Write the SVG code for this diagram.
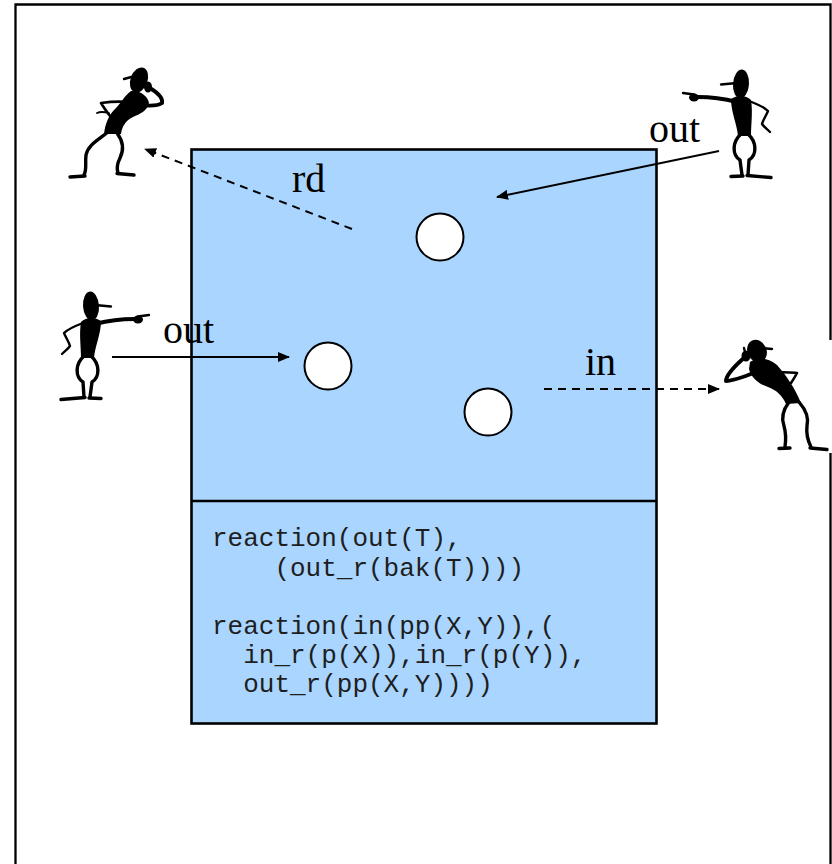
<svg xmlns="http://www.w3.org/2000/svg" width="832" height="864" viewBox="0 0 832 864">
  <defs>
    <style>
      .frame{fill:none;stroke:#000;stroke-width:2.3}
      .box{fill:#a9d5ff;stroke:#000;stroke-width:2.6}
      .token{fill:#fff;stroke:#000;stroke-width:2}
      .lbl{font-family:"Liberation Serif","Times New Roman",serif;font-size:40px;fill:#000}
      .code{font-family:"Liberation Mono","Courier New",monospace;font-size:26px;fill:#1e1e1e}
      .solid{fill:none;stroke:#000;stroke-width:2}
      .dash{fill:none;stroke:#000;stroke-width:2;stroke-dasharray:8 6}
      .ink{fill:#000}
      .limb{fill:none;stroke:#000;stroke-linecap:round;stroke-linejoin:round}
    </style>
    <filter id="soft" x="-10%" y="-10%" width="120%" height="120%">
      <feGaussianBlur stdDeviation="0.6"/>
    </filter>
    <marker id="tip" markerWidth="12" markerHeight="10" refX="11" refY="5" orient="auto" markerUnits="userSpaceOnUse">
      <path d="M0,0 L12,5 L0,10 Z" fill="#000"/>
    </marker>
    <!-- pointing figure, facing left -->
    <g id="pointer">
      <ellipse class="ink" cx="741" cy="84" rx="8" ry="14.5" transform="rotate(4 741 84)"/>
      <path class="limb" stroke-width="2.4" d="M721,84.5 L737,83"/>
      <path class="ink" d="M731,99 C737,95 746,95 751,100 C753,112 751,124 751,136 L738,136 C737,124 731,112 731,99 Z"/>
      <path class="limb" stroke-width="4" d="M737,102 C725,99 710,97 698,97"/>
      <ellipse class="ink" cx="694" cy="97.5" rx="5" ry="4"/>
      <path class="limb" stroke-width="2.4" d="M694,94.5 L683,93"/>
      <path class="limb" stroke-width="2.4" d="M749,101 C757,104 764,107 768,111 C766,116 763,120 762,124 C764,127 767,129 770,132"/>
      <path class="limb" stroke-width="3.4" d="M741,134 C732,142 732,155 740,160 L742,175"/>
      <path class="limb" stroke-width="3.4" d="M748,134 C757,142 757,155 749,160 L748,175"/>
      <path class="limb" stroke-width="3.4" d="M731,176.5 L743,176"/>
      <path class="limb" stroke-width="3.4" d="M747,175.5 L771,177.5"/>
    </g>
  </defs>

  <!-- page frame, broken where the right-hand figure overlaps it -->
  <path class="frame" d="M15.5,864 L15.5,4.5 L830.5,4.5 L830.5,340 M830.5,453 L830.5,864"/>

  <!-- tuple space -->
  <g id="space">
    <rect class="box" x="191.5" y="149.5" width="465" height="574"/>
    <line x1="191.5" y1="501" x2="656.5" y2="501" stroke="#000" stroke-width="2.6"/>
  </g>

  <g id="tuple1"><circle class="token" cx="440" cy="237" r="23.5"/></g>
  <g id="tuple2"><circle class="token" cx="328" cy="366" r="23.5"/></g>
  <g id="tuple3"><circle class="token" cx="488" cy="412" r="23.5"/></g>

  <!-- reaction specification -->
  <g id="reactions">
    <text class="code" x="212" y="546">reaction(out(T),</text>
    <text class="code" x="274.4" y="576">(out_r(bak(T))))</text>
    <text class="code" x="212" y="634">reaction(in(pp(X,Y)),(</text>
    <text class="code" x="243.2" y="663">in_r(p(X)),in_r(p(Y)),</text>
    <text class="code" x="243.2" y="692">out_r(pp(X,Y))))</text>
  </g>

  <!-- agents -->
  <g id="agent-rd" filter="url(#soft)">
    <ellipse class="ink" cx="139" cy="80" rx="8.5" ry="13" transform="rotate(20 139 80)"/>
    <path class="limb" stroke-width="2.4" d="M124,79 L135,76"/>
    <path class="ink" d="M131,91 C140,90 148,96 149,103 C147,111 140,114 133,117 C125,121 122,127 121,134 L104,134 C105,124 109,114 116,108 C121,103 125,95 131,91 Z"/>
    <path class="limb" stroke-width="4" d="M140,105 C149,106 158,106 162,103 C163,98 157,92 148,87"/>
    <ellipse class="ink" cx="148" cy="87" rx="4" ry="5.5"/>
    <path class="limb" stroke-width="2.6" d="M128,102 C118,101 108,102 101,103 C104,108 107,112 110,116"/>
    <path class="limb" stroke-width="1.8" d="M97,113 C101,111 105,112 109,113"/>
    <path class="limb" stroke-width="3.4" d="M108,132 C98,140 88,145 86,155 C85,163 87,170 84,175"/>
    <path class="limb" stroke-width="3.4" d="M70,177 L85,176"/>
    <path class="limb" stroke-width="3.4" d="M117,133 C123,141 124,150 120,158 C117,164 117,170 118,173"/>
    <path class="limb" stroke-width="3.4" d="M117,173.5 L134,175"/>
  </g>

  <g id="agent-out-right" filter="url(#soft)">
    <use href="#pointer"/>
  </g>

  <g id="agent-out-left" filter="url(#soft)">
    <use href="#pointer" transform="translate(832,222) scale(-1,1)"/>
  </g>

  <g id="agent-in" filter="url(#soft)">
    <ellipse class="ink" cx="757" cy="351" rx="9.5" ry="11.5" transform="rotate(-25 757 351)"/>
    <path class="limb" stroke-width="2.4" d="M761,348 L772,349"/>
    <path class="ink" d="M750,362 C758,356 769,358 777,365 C786,375 795,388 801,403 L786,404 C782,395 776,390 768,387 C759,384 751,378 749,369 Z"/>
    <path class="limb" stroke-width="4" d="M756,372 C746,376 733,381 726,381 C726,374 737,364 745,357"/>
    <ellipse class="ink" cx="746" cy="356" rx="4.5" ry="5.5"/>
    <path class="limb" stroke-width="2.4" d="M745,352 L744,348"/>
    <path class="limb" stroke-width="2.6" d="M767,372 C778,372 790,372 797,373 C795,377 793,380 791,383"/>
    <path class="limb" stroke-width="3.4" d="M789,402 C783,410 781,418 784,426 C786,433 786,440 785,447"/>
    <path class="limb" stroke-width="3.4" d="M779,448.5 L790,448"/>
    <path class="limb" stroke-width="3.4" d="M799,402 C806,410 809,418 807,426 C806,434 808,441 811,447"/>
    <path class="limb" stroke-width="3.4" d="M810,448 L827,449.5"/>
  </g>

  <!-- operations -->
  <g id="connectors">
    <line class="dash" x1="352" y1="229" x2="145" y2="149" marker-end="url(#tip)"/>
    <line class="solid" x1="719" y1="151" x2="497" y2="197" marker-end="url(#tip)"/>
    <line class="solid" x1="112" y1="357" x2="289" y2="357" marker-end="url(#tip)"/>
    <line class="dash" x1="544" y1="389" x2="719" y2="389" marker-end="url(#tip)"/>
  </g>

  <g id="labels">
    <text class="lbl" x="292" y="192">rd</text>
    <text class="lbl" x="649" y="142">out</text>
    <text class="lbl" x="163" y="343">out</text>
    <text class="lbl" x="585" y="375">in</text>
  </g>
</svg>
